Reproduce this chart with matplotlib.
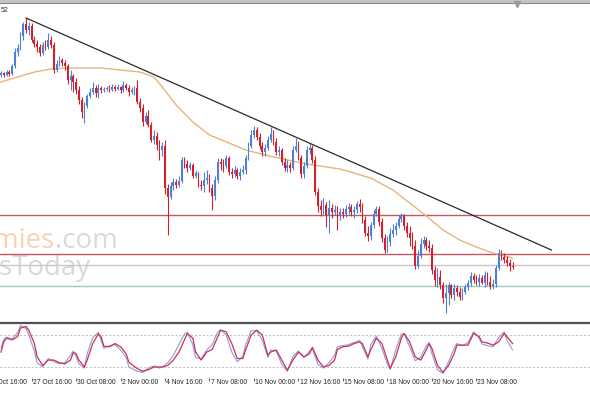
import numpy as np
import matplotlib.pyplot as plt
from matplotlib import transforms

# 4H candles, prices in chart points
opens = [255, 257, 255, 258, 256, 264, 278, 282, 294, 306,
         300, 304, 290, 286, 283, 277, 285, 283, 290, 285,
         260, 266, 270, 267, 264, 250, 254, 248, 240, 230,
         218, 224, 234, 238, 242, 237, 242, 240, 241, 242,
         240, 243, 241, 243, 240, 245, 242, 238, 240, 242,
         228, 222, 208, 214, 205, 190, 194, 185, 180, 184,
         142, 133, 144, 148, 145, 149, 170, 166, 162, 165,
         154, 157, 145, 144, 150, 152, 142, 134, 150, 168,
         166, 164, 172, 158, 156, 160, 154, 158, 160, 172,
         184, 195, 200, 193, 184, 178, 182, 190, 196, 188,
         178, 180, 168, 162, 165, 162, 180, 184, 172, 156,
         164, 180, 182, 170, 138, 124, 120, 125, 115, 122,
         118, 120, 114, 118, 116, 121, 123, 118, 120, 126,
         123, 110, 97, 94, 105, 116, 121, 108, 92, 80,
         88, 96, 100, 104, 111, 114, 104, 97, 92, 84,
         64, 74, 86, 90, 84, 82, 60, 50, 53, 45,
         32, 37, 45, 35, 42, 38, 33, 38, 43, 47,
         54, 50, 48, 52, 47, 55, 48, 44, 46, 62,
         77, 73, 70, 67, 64]
highs = [259, 258, 260, 260, 266, 282, 286, 298, 308, 312,
         308, 307, 294, 290, 286, 288, 290, 297, 294, 288,
         270, 274, 272, 270, 266, 260, 256, 252, 244, 233,
         228, 236, 242, 248, 245, 246, 244, 243, 244, 245,
         246, 245, 246, 244, 249, 247, 245, 243, 244, 250,
         232, 226, 218, 220, 208, 200, 198, 190, 188, 190,
         146, 148, 152, 151, 154, 173, 173, 170, 168, 167,
         160, 158, 150, 158, 160, 156, 146, 154, 172, 172,
         171, 175, 174, 162, 164, 162, 162, 165, 175, 188,
         200, 204, 203, 197, 188, 186, 194, 203, 200, 192,
         184, 182, 172, 170, 168, 184, 192, 189, 175, 168,
         184, 187, 185, 174, 142, 130, 132, 128, 130, 126,
         125, 124, 122, 122, 125, 127, 126, 124, 129, 131,
         127, 114, 104, 108, 120, 124, 124, 112, 96, 94,
         102, 106, 108, 115, 117, 116, 108, 104, 98, 90,
         80, 92, 94, 93, 90, 86, 64, 62, 60, 48,
         46, 48, 46, 46, 45, 43, 42, 46, 50, 58,
         57, 55, 56, 55, 59, 58, 54, 51, 65, 81,
         80, 77, 74, 71, 68]
lows = [253, 253, 254, 254, 255, 262, 274, 280, 290, 297,
        295, 288, 283, 278, 274, 275, 280, 281, 282, 257,
        258, 264, 264, 260, 246, 240, 238, 236, 226, 212,
        207, 222, 232, 236, 233, 232, 237, 238, 239, 238,
        239, 239, 240, 237, 238, 240, 234, 236, 235, 226,
        218, 204, 206, 203, 188, 186, 180, 170, 174, 136,
        95, 131, 140, 142, 143, 147, 162, 158, 160, 152,
        152, 143, 140, 138, 146, 138, 120, 130, 147, 160,
        158, 162, 155, 152, 153, 151, 150, 156, 156, 170,
        182, 192, 190, 181, 174, 174, 180, 188, 185, 175,
        174, 165, 159, 158, 158, 160, 178, 170, 152, 152,
        162, 176, 167, 135, 118, 114, 116, 103, 97, 112,
        115, 100, 110, 112, 113, 116, 114, 112, 117, 118,
        107, 94, 89, 90, 102, 114, 104, 88, 77, 78,
        84, 93, 95, 102, 108, 100, 93, 84, 81, 61,
        62, 72, 82, 80, 78, 56, 44, 43, 41, 27,
        17, 25, 32, 30, 34, 30, 30, 36, 40, 44,
        47, 45, 44, 46, 43, 45, 41, 41, 43, 60,
        70, 67, 64, 59, 61]
closes = [257, 255, 258, 256, 264, 278, 282, 294, 306, 300,
          304, 290, 286, 283, 277, 285, 283, 290, 285, 260,
          266, 270, 267, 264, 250, 254, 248, 240, 230, 218,
          224, 234, 238, 242, 237, 242, 240, 241, 242, 240,
          243, 241, 243, 240, 245, 242, 238, 240, 242, 228,
          222, 208, 214, 205, 190, 194, 185, 180, 184, 142,
          133, 144, 148, 145, 149, 170, 166, 162, 165, 154,
          157, 145, 144, 150, 152, 142, 134, 150, 168, 166,
          164, 172, 158, 156, 160, 154, 158, 160, 172, 184,
          195, 200, 193, 184, 178, 182, 190, 196, 188, 178,
          180, 168, 162, 165, 162, 180, 184, 172, 156, 164,
          180, 182, 170, 138, 124, 120, 125, 115, 122, 118,
          120, 114, 118, 116, 121, 123, 118, 120, 126, 123,
          110, 97, 94, 105, 116, 121, 108, 92, 80, 88,
          96, 100, 104, 111, 114, 104, 97, 92, 84, 64,
          74, 86, 90, 84, 82, 60, 50, 53, 45, 32,
          37, 45, 35, 42, 38, 33, 38, 43, 47, 54,
          50, 48, 52, 47, 55, 48, 44, 46, 62, 77,
          73, 70, 67, 64, 63]

# moving average
ma_bars = [0, 6, 12, 18, 24, 36, 43, 50, 55, 58, 63, 69, 75, 82, 88, 98,
           110, 122, 133, 141, 147, 153, 159, 165, 171, 177, 184]
ma_vals = [248, 253, 258, 261, 262, 262, 260, 258, 253, 243, 225, 208, 195,
           187, 180, 173, 166, 161, 152, 140, 127, 114, 100, 90, 83, 77, 72]

# trend line and horizontal levels
trend_bars = [9, 198]
trend_vals = [312, 80]
levels = [115, 76, 65, 44]

# stochastic oscillator
stoch_bars = [0, 1, 2, 4, 6, 7, 9, 10, 12, 13, 15, 17, 19, 21, 23, 25, 26, 27, 28, 30,
              31, 33, 35, 36, 37, 39, 41, 43, 45, 46, 49, 51, 53, 55, 57, 58, 60, 62, 64, 66,
              67, 69, 70, 72, 74, 76, 78, 79, 81, 83, 85, 87, 88, 90, 92, 94, 96, 97, 99, 101,
              103, 105, 107, 109, 111, 112, 114, 116, 118, 120, 121, 123, 125, 127, 129, 130,
              132, 133, 135, 137, 139, 140, 142, 144, 145, 147, 149, 151, 153, 154, 155, 157,
              159, 161, 163, 164, 166, 168, 170, 172, 173, 175, 177, 179, 181, 182, 184]
stoch_main = [55, 72, 76, 72, 85, 98, 92, 80, 50, 28, 20, 36, 30, 26, 28, 42, 50, 40, 26, 18,
              45, 75, 85, 70, 55, 60, 62, 52, 38, 20, 12, 10, 18, 22, 18, 20, 28, 42, 62, 82,
              85, 62, 38, 35, 52, 62, 86, 90, 80, 48, 30, 40, 62, 88, 88, 70, 38, 52, 50, 25,
              12, 40, 50, 38, 50, 55, 25, 18, 28, 42, 58, 60, 62, 66, 70, 58, 35, 62, 78, 55,
              25, 16, 52, 82, 82, 58, 32, 38, 60, 66, 45, 15, 8, 30, 55, 64, 60, 66, 86, 74,
              63, 60, 58, 75, 86, 70, 52]
stoch_signal = [48, 67, 74, 71, 77, 93, 96, 89, 64, 39, 23, 33, 33, 28, 26, 33, 47, 45, 33, 20,
                33, 64, 82, 77, 59, 58, 64, 58, 45, 29, 17, 12, 15, 20, 20, 20, 23, 33, 48, 71,
                83, 74, 48, 33, 48, 53, 77, 89, 86, 64, 36, 36, 52, 80, 89, 80, 42, 48, 52, 33,
                14, 33, 48, 39, 45, 57, 33, 20, 23, 33, 53, 58, 59, 64, 67, 64, 39, 52, 74, 64,
                33, 17, 39, 74, 83, 67, 39, 33, 52, 64, 55, 23, 10, 23, 45, 61, 61, 61, 83, 77,
                67, 65, 61, 67, 83, 77, 64]
stoch_levels = [80, 20]

tick_bars = [-5, 11, 27, 43, 59, 75, 91, 107, 123, 139, 155, 171]
tick_labels = ['26 Oct 16:00', '27 Oct 16:00', '30 Oct 08:00', '2 Nov 00:00', '4 Nov 16:00',
               '7 Nov 08:00', '10 Nov 00:00', '12 Nov 16:00', '15 Nov 08:00', '18 Nov 00:00',
               '20 Nov 16:00', '23 Nov 08:00']

W, H = 590, 393
BULL = '#4a80d8'
BEAR = '#d4202a'


def rows(top, bottom):
    return [0, 1 - bottom / H, 1, (bottom - top) / H]


fig = plt.figure(figsize=(W / 100, H / 100), dpi=100)
fig.patch.set_facecolor('white')
xlim = (-1 / 2.78, (W - 1) / 2.78)

ax = fig.add_axes(rows(5, 320))
ax.set_xlim(*xlim)
ax.set_ylim(10, 325)
ax.axis('off')

# watermark
ax.text(55 / W, 1 - 243 / 315, 'economies', transform=ax.transAxes, ha='right', va='baseline',
        fontsize=20, family='Open Sans', color='#f8d2b6', zorder=0)
ax.text(55 / W, 1 - 243 / 315, '.com', transform=ax.transAxes, ha='left', va='baseline',
        fontsize=20, family='Open Sans', color='#dadada', zorder=0)
ax.text(90 / W, 1 - 270 / 315, 'NewsToday', transform=ax.transAxes, ha='right', va='baseline',
        fontsize=20, family='Open Sans', color='#d8d8d8', zorder=0)

level_colors = ['#cc5560', '#cc5560', '#c8c8c8', '#9ccabe']
for lv, col in zip(levels, level_colors):
    ax.axhline(lv, color=col, lw=1, zorder=1)

ax.plot(ma_bars, ma_vals, color='#e6b47c', lw=1, zorder=2)
ax.plot(trend_bars, trend_vals, color='#2a2a2a', lw=0.9, zorder=4)

o = np.array(opens, float)
c = np.array(closes, float)
idx = np.arange(len(c))
cols = np.where(c >= o, BULL, BEAR)
ax.vlines(idx, lows, highs, colors=cols, lw=0.8, zorder=3)
ax.bar(idx, np.maximum(np.abs(c - o), 0.8), bottom=np.minimum(o, c), width=0.62,
       color=cols, linewidth=0, zorder=3)

# oscillator panel
ax2 = fig.add_axes(rows(323, 378))
ax2.set_xlim(*xlim)
ax2.set_ylim(-0.6, 102.5)
for s in ['left', 'right', 'bottom']:
    ax2.spines[s].set_visible(False)
ax2.spines['top'].set_color('#505050')
ax2.spines['top'].set_linewidth(1.6)
ax2.set_yticks([])
for lv in stoch_levels:
    ax2.axhline(lv, color='#bcbcbc', lw=0.7, ls=(0, (2, 2)))
ax2.plot(stoch_bars, stoch_main, color='#8c9be0', lw=0.8)
ax2.plot(stoch_bars, stoch_signal, color='#cc3050', lw=0.9)

ax2.set_xticks([b for b in tick_bars if b >= 0])
ax2.set_xticklabels([])
ax2.tick_params(axis='x', length=2, width=0.6, color='#444444', direction='out', pad=0)
tr = transforms.blended_transform_factory(ax2.transData, fig.transFigure)
for b, lab in zip(tick_bars, tick_labels):
    ax2.text(b + 0.4, 1 - 383 / H, lab, transform=tr, ha='left', va='center',
             fontsize=4.9, family='Liberation Sans', color='#222222', clip_on=False)

# window frame bits
fig.add_artist(plt.Rectangle((0, 1 - 3.5 / H), 1, 3.5 / H, transform=fig.transFigure,
                             color='#c4c4c4', lw=0))
fig.add_artist(plt.Line2D([0, 1], [1 - 2.5 / H] * 2, transform=fig.transFigure,
                          color='#8a8a8a', lw=0.8))
fig.add_artist(plt.Line2D([517 / W], [1 - 4 / H], transform=fig.transFigure, marker='v',
                          markersize=4, color='#9a9a9a', lw=0))
fig.text(0.5 / W, 1 - 10 / H, '52', fontsize=5, family='Liberation Sans', color='#333333',
         va='center', ha='left')

fig.savefig('out.png', dpi=100)
